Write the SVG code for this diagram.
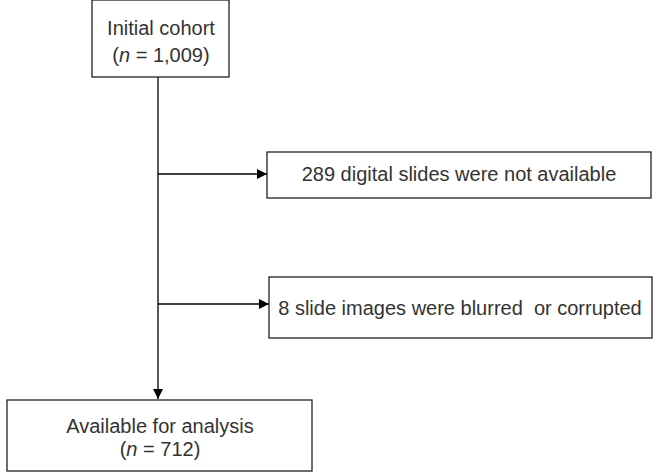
<svg xmlns="http://www.w3.org/2000/svg" width="653" height="472" viewBox="0 0 653 472">
<style>
.box{fill:#fff;stroke:#222;stroke-width:1.3}
.t{font-family:"Liberation Sans",Arial,sans-serif;font-size:20px;fill:#333;text-anchor:middle;white-space:pre}
.c{stroke:#000;stroke-width:1.3;fill:none}
</style>
<defs>
<marker id="ah" viewBox="0 0 10 10" refX="10" refY="5" markerWidth="10" markerHeight="10" markerUnits="userSpaceOnUse" orient="auto">
<path d="M0,0 L10,5 L0,10 z" fill="#000"/>
</marker>
</defs>
<g id="connectors">
<line class="c" x1="158" y1="77" x2="158" y2="399" marker-end="url(#ah)"/>
<line class="c" x1="158" y1="174" x2="267" y2="174" marker-end="url(#ah)"/>
<line class="c" x1="158" y1="304" x2="269" y2="304" marker-end="url(#ah)"/>
</g>
<g id="n1">
<rect class="box" x="92" y="0" width="137" height="77"/>
<text class="t" x="161" y="35" font-size="19">Initial cohort</text>
<text class="t" x="161" y="62" font-size="19">(<tspan font-style="italic">n</tspan> = 1,009)</text>
</g>
<g id="n2">
<rect class="box" x="267" y="152" width="384" height="46"/>
<text class="t" x="459" y="181">289 digital slides were not available</text>
</g>
<g id="n3">
<rect class="box" x="269" y="277" width="383" height="61"/>
<text class="t" x="460" y="315" xml:space="preserve">8 slide images were blurred  or corrupted</text>
</g>
<g id="n4">
<rect class="box" x="7" y="400" width="305" height="71"/>
<text class="t" x="160" y="433">Available for analysis</text>
<text class="t" x="160" y="456">(<tspan font-style="italic">n</tspan> = 712)</text>
</g>
</svg>
